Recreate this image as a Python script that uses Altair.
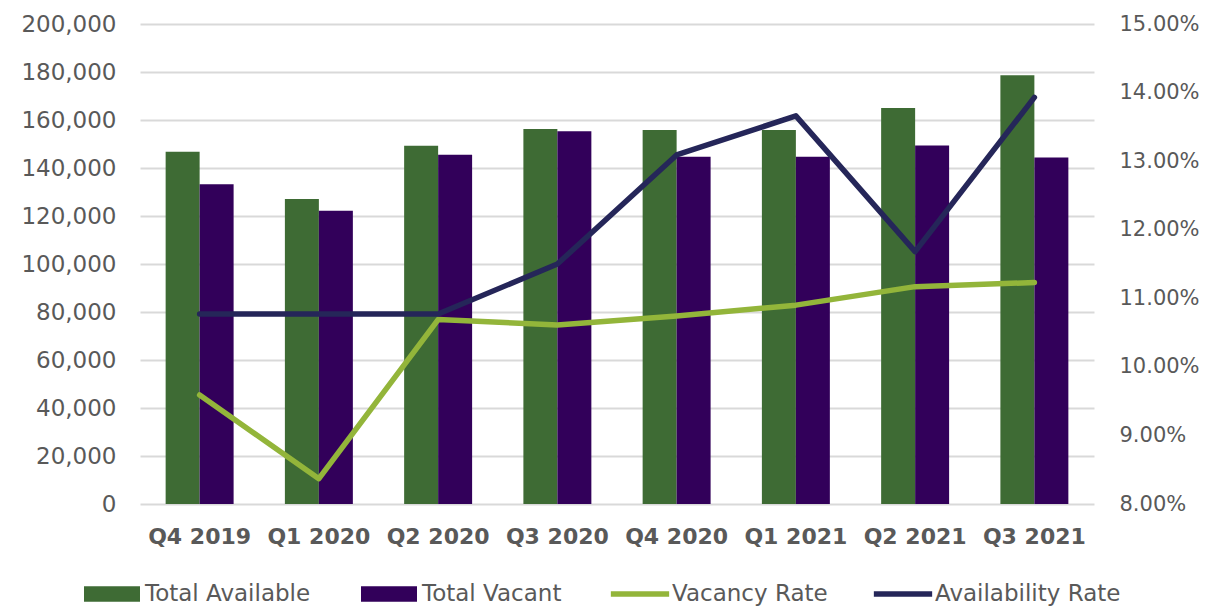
import altair as alt
import pandas as pd

quarters = ["Q4 2019", "Q1 2020", "Q2 2020", "Q3 2020", "Q4 2020", "Q1 2021", "Q2 2021", "Q3 2021"]
total_available = [146800, 127100, 149300, 156250, 155800, 155800, 165000, 178600]
total_vacant = [133200, 122200, 145500, 155300, 144700, 144700, 149400, 144400]
vacancy_rate = [0.0959, 0.0837, 0.1069, 0.1061, 0.1074, 0.1090, 0.1117, 0.1123]
availability_rate = [0.1077, 0.1077, 0.1077, 0.1150, 0.1309, 0.1366, 0.1168, 0.1393]

bar_series = ["Total Available", "Total Vacant"]
line_series = ["Vacancy Rate", "Availability Rate"]

bars_df = pd.DataFrame(
    [{"quarter": q, "series": bar_series[0], "value": v} for q, v in zip(quarters, total_available)]
    + [{"quarter": q, "series": bar_series[1], "value": v} for q, v in zip(quarters, total_vacant)]
)
lines_df = pd.DataFrame(
    [{"quarter": q, "series": line_series[0], "rate": v} for q, v in zip(quarters, vacancy_rate)]
    + [{"quarter": q, "series": line_series[1], "rate": v} for q, v in zip(quarters, availability_rate)]
)

FONT = "DejaVu Sans"
LABEL = "#595959"

x_enc = alt.X(
    "quarter:N",
    sort=quarters,
    title=None,
    scale=alt.Scale(paddingInner=0.43, paddingOuter=0.215),
    axis=alt.Axis(labelAngle=0, labelFont=FONT, labelFontSize=22, labelFontWeight="bold",
                  labelColor=LABEL, labelPadding=22, ticks=False, domain=False, grid=False),
)

bars = alt.Chart(bars_df).mark_bar().encode(
    x=x_enc,
    xOffset=alt.XOffset("series:N", sort=bar_series, scale=alt.Scale(paddingInner=0, paddingOuter=0)),
    y=alt.Y(
        "value:Q",
        title=None,
        scale=alt.Scale(domain=[0, 200000], nice=False),
        axis=alt.Axis(orient="left", values=list(range(0, 200001, 20000)), format=",.0f",
                      labelFont=FONT, labelFontSize=23, labelColor=LABEL, labelPadding=24,
                      ticks=False, domain=False, grid=True, gridColor="#d9d9d9", gridWidth=2),
    ),
    color=alt.Color(
        "series:N",
        sort=bar_series,
        scale=alt.Scale(domain=bar_series, range=["#3e6b34", "#32005a"]),
        legend=alt.Legend(
            title=None, orient="none", direction="horizontal", legendX=-56, legendY=542,
            symbolType="M-1,-0.28H1V0.28H-1Z", symbolSize=3136, symbolStrokeWidth=0,
            labelFont=FONT, labelFontSize=23, labelColor=LABEL, labelOffset=5, labelLimit=400,
            columnPadding=50, padding=0,
        ),
    ),
)

lines = alt.Chart(lines_df).mark_line(strokeWidth=5.5, strokeCap="round", strokeJoin="round").encode(
    x=x_enc,
    y=alt.Y(
        "rate:Q",
        title=None,
        scale=alt.Scale(domain=[0.08, 0.15], nice=False, zero=False),
        axis=alt.Axis(orient="right", values=[0.08, 0.09, 0.10, 0.11, 0.12, 0.13, 0.14, 0.15], format=".2%",
                      labelFont=FONT, labelFontSize=21, labelColor=LABEL, labelPadding=25,
                      ticks=False, domain=False, grid=False),
    ),
    stroke=alt.Stroke(
        "series:N",
        sort=line_series,
        scale=alt.Scale(domain=line_series, range=["#93b53a", "#252659"]),
        legend=alt.Legend(
            title=None, orient="none", direction="horizontal", legendX=468, legendY=538,
            symbolType="stroke", symbolSize=3400, symbolStrokeWidth=5.5,
            labelFont=FONT, labelFontSize=23, labelColor=LABEL, labelOffset=0, labelLimit=400,
            columnPadding=34, padding=0,
        ),
    ),
    order=alt.Order("quarter_index:Q"),
).transform_calculate(
    quarter_index="indexof(" + str(quarters) + ", datum.quarter)"
)

chart = alt.layer(bars, lines).resolve_scale(
    y="independent"
).properties(
    width=954,
    height=480,
    background="white",
    autosize=alt.AutoSizeParams(type="none"),
    padding={"left": 132, "top": 16, "right": 111, "bottom": 105},
).configure_view(stroke=None)

chart.save("out.html", embed_options={"renderer": "svg", "actions": False})
